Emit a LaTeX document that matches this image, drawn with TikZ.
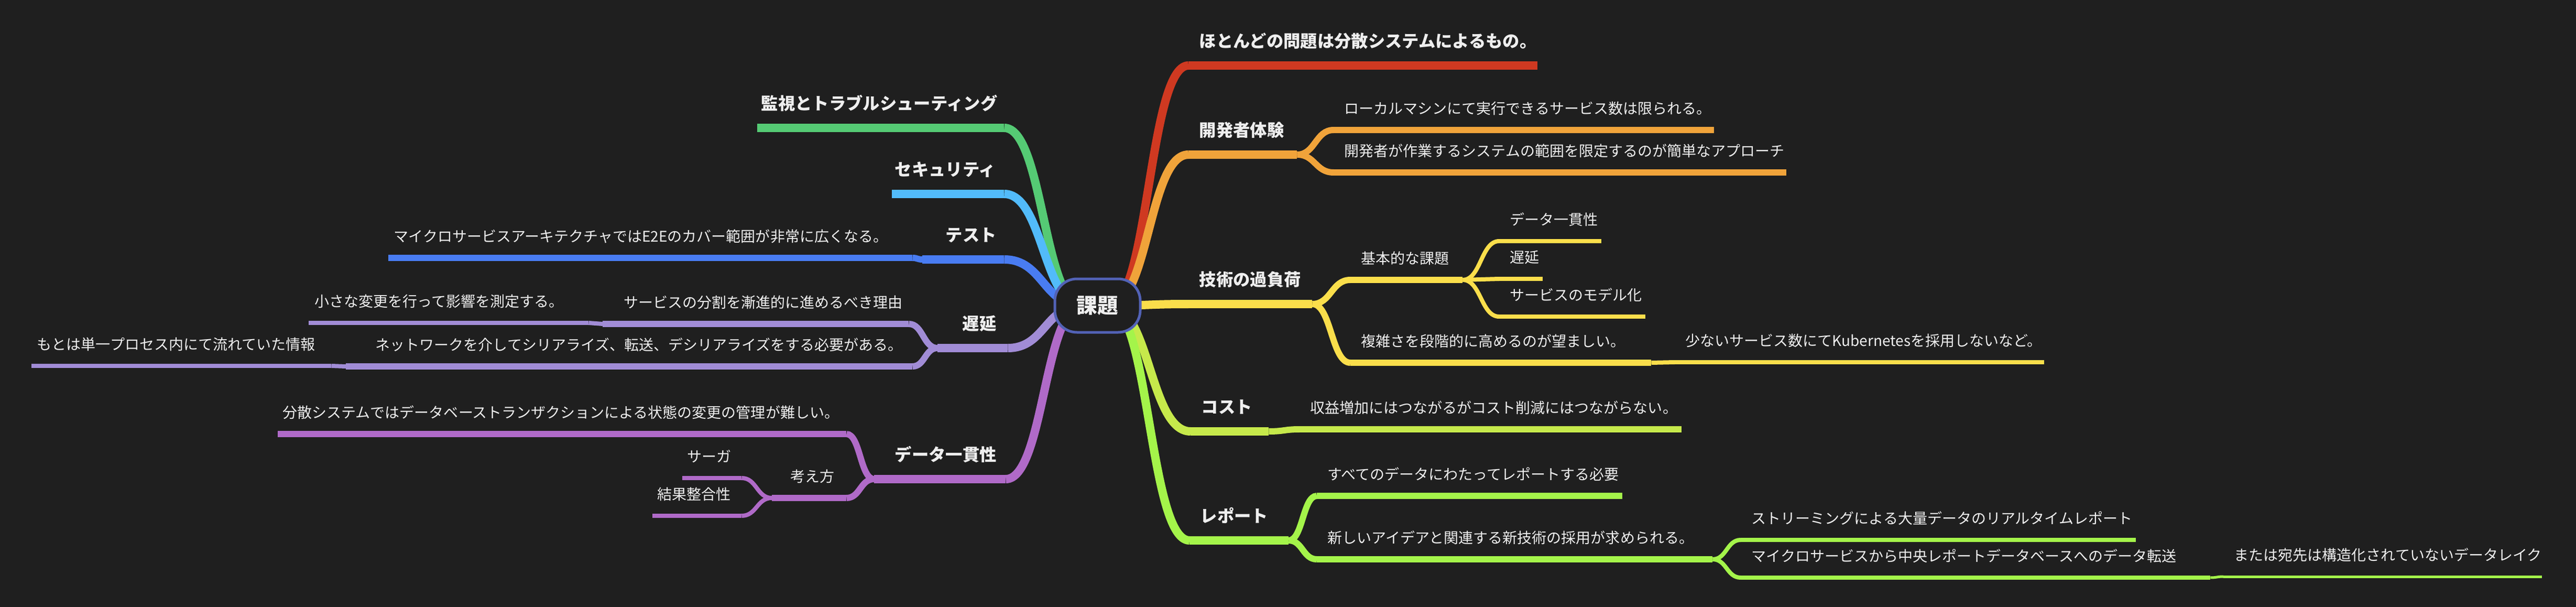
\documentclass[tikz,border=0pt]{standalone}
\usepackage{fontspec}
\setmainfont{Noto Sans CJK JP}
\usepackage{xcolor}
\usepackage{tikz}
\usetikzlibrary{positioning, calc}
\definecolor{bgdark}{RGB}{31,31,31}
\definecolor{txtwhite}{RGB}{238,238,238}
\definecolor{rootblue}{RGB}{82,98,182}
\definecolor{bred}{RGB}{207,57,33}
\definecolor{borange}{RGB}{240,163,58}
\definecolor{byellow}{RGB}{250,222,75}
\definecolor{blime}{RGB}{198,233,75}
\definecolor{bgreen}{RGB}{164,244,74}
\definecolor{bpurple}{RGB}{176,106,200}
\definecolor{blavender}{RGB}{161,140,214}
\definecolor{bblue}{RGB}{73,124,242}
\definecolor{bsky}{RGB}{82,187,250}
\definecolor{bmint}{RGB}{85,202,116}

\pgfdeclarelayer{canvas}
\pgfdeclarelayer{links}
\pgfsetlayers{canvas,links,main}

\newcommand{\mmlink}[3]{\draw[#1] let \p1=(#2), \p2=(#3) in (\p1) .. controls ({(\x1+\x2)/2},\y1) and ({(\x1+\x2)/2},\y2) .. (\p2);}

\begin{document}
\begin{tikzpicture}[
  topic/.style={anchor=south west, align=left, text depth=0pt, inner xsep=2mm, inner ysep=3.4mm,
               text=txtwhite, font=\fontsize{9.2}{11}\selectfont\bfseries},
  sub/.style={topic, inner ysep=3mm, font=\fontsize{7.97}{9.5}\selectfont},
  rootnode/.style={rectangle, rounded corners=4.2mm, draw=rootblue, line width=0.5mm, fill=bgdark,
               minimum width=1.63cm, minimum height=1.02cm, inner sep=0pt, text=txtwhite,
               font=\fontsize{11.3}{13}\selectfont\bfseries},
  w1/.style={line width=1.6mm},
  w2/.style={line width=1.2mm},
  w3/.style={line width=0.8mm},
  w4/.style={line width=0.5mm}
]

\useasboundingbox (0,0) rectangle (49.16,-11.58);
\begin{pgfonlayer}{canvas}
\fill[bgdark] (0,0) rectangle (49.16,-11.58);
\end{pgfonlayer}

\node[rootnode] (root) at (20.945,-5.83) {課題};
\coordinate (rootR) at ([xshift=2.2mm]root.center);
\coordinate (rootL) at ([xshift=-2.9mm]root.center);

\node[topic, text width=6.25cm] (dist) at (22.68,-1.25) {ほとんどの問題は分散システムによるもの。};
\node[topic, text width=1.66cm] (devx) at (22.68,-2.95) {開発者体験};
\node[sub, text width=6.85cm] (devx1) at (25.45,-2.48) {ローカルマシンにて実行できるサービス数は限られる。};
\node[sub, text width=8.23cm] (devx2) at (25.45,-3.29) {開発者が作業するシステムの範囲を限定するのが簡単なアプローチ};
\node[topic, text width=1.95cm] (tech) at (22.68,-5.80) {技術の過負荷};
\node[sub, text width=1.73cm] (basic) at (25.77,-5.34) {基本的な課題};
\node[sub, text width=1.54cm] (bcons) at (28.61,-4.60) {データ一貫性};
\node[sub, text width=0.42cm] (blat) at (28.61,-5.32) {遅延};
\node[sub, text width=2.38cm] (bmodel) at (28.61,-6.04) {サービスのモデル化};
\node[sub, text width=5.33cm] (gradual) at (25.77,-6.92) {複雑さを段階的に高めるのが望ましい。};
\node[sub, text width=6.64cm] (fewsvc) at (31.96,-6.91) {少ないサービス数にてKubernetesを採用しないなど。};
\node[topic, text width=1.08cm] (cost) at (22.72,-8.23) {コスト};
\node[sub, text width=6.88cm] (costa) at (24.80,-8.19) {収益増加にはつながるがコスト削減にはつながらない。};
\node[topic, text width=1.48cm] (report) at (22.70,-10.31) {レポート};
\node[sub, text width=5.42cm] (rall) at (25.13,-9.46) {すべてのデータにわたってレポートする必要};
\node[sub, text width=7.14cm] (rnew) at (25.13,-10.67) {新しいアイデアと関連する新技術の採用が求められる。};
\node[sub, text width=7.13cm] (rstream) at (33.22,-10.30) {ストリーミングによる大量データのリアルタイムレポート};
\node[sub, text width=8.55cm] (rtrans) at (33.22,-11.02) {マイクロサービスから中央レポートデータベースへのデータ転送};
\node[sub, text width=5.67cm] (rlake) at (42.43,-11.00) {または宛先は構造化されていないデータレイク};

\node[topic, inner xsep=0.7mm, text width=4.56cm] (monitor) at (14.45,-2.44) {監視とトラブルシューティング};
\node[topic, inner xsep=0.5mm, text width=2.03cm] (security) at (17.02,-3.70) {セキュリティ};
\node[topic, inner xsep=4.4mm, text width=0.67cm] (test) at (17.60,-4.95) {テスト};
\node[sub, inner xsep=1mm, text width=9.79cm] (e2e) at (7.41,-4.92) {マイクロサービスアーキテクチャではE2Eのカバー範囲が非常に広くなる。};
\node[topic, inner xsep=4.7mm, text width=0.39cm] (latency) at (17.89,-6.64) {遅延};
\node[sub, inner xsep=4mm, text width=5.03cm] (lsplit) at (11.50,-6.18) {サービスの分割を漸進的に進めるべき理由};
\node[sub, inner xsep=1.1mm, text width=5.11cm] (lsmall) at (5.89,-6.16) {小さな変更を行って影響を測定する。};
\node[sub, inner xsep=5.6mm, text width=9.68cm] (lnet) at (6.60,-6.99) {ネットワークを介してシリアライズ、転送、デシリアライズをする必要がある。};
\node[sub, inner xsep=1mm, text width=5.51cm] (lproc) at (0.60,-6.98) {もとは単一プロセス内にて流れていた情報};
\node[topic, inner xsep=3.9mm, text width=1.72cm] (consist) at (16.68,-9.14) {データ一貫性};
\node[sub, inner xsep=0.9mm, text width=10.66cm] (cdist) at (5.30,-8.28) {分散システムではデータベーストランザクションによる状態の変更の管理が難しい。};
\node[sub, inner xsep=3.5mm, text width=0.71cm] (cthink) at (14.73,-9.50) {考え方};
\node[sub, inner xsep=0.9mm, text width=0.94cm] (csaga) at (13.02,-9.12) {サーガ};
\node[sub, inner xsep=0.9mm, text width=1.51cm] (cevent) at (12.45,-9.84) {結果整合性};

\draw[w1, bred] (dist.south west) -- (dist.south east);
\draw[w1, borange] (devx.south west) -- (devx.south east);
\draw[w2, borange] (devx1.south west) -- (devx1.south east);
\draw[w2, borange] (devx2.south west) -- (devx2.south east);
\draw[w1, byellow] (tech.south west) -- (tech.south east);
\draw[w2, byellow] (basic.south west) -- (basic.south east);
\draw[w3, byellow] (bcons.south west) -- (bcons.south east);
\draw[w3, byellow] (blat.south west) -- (blat.south east);
\draw[w3, byellow] (bmodel.south west) -- (bmodel.south east);
\draw[w2, byellow] (gradual.south west) -- (gradual.south east);
\draw[w3, byellow] (fewsvc.south west) -- (fewsvc.south east);
\draw[w1, blime] (cost.south west) -- (cost.south east);
\draw[w2, blime] (costa.south west) -- (costa.south east);
\draw[w1, bgreen] (report.south west) -- (report.south east);
\draw[w2, bgreen] (rall.south west) -- (rall.south east);
\draw[w2, bgreen] (rnew.south west) -- (rnew.south east);
\draw[w3, bgreen] (rstream.south west) -- (rstream.south east);
\draw[w3, bgreen] (rtrans.south west) -- (rtrans.south east);
\draw[w4, bgreen] (rlake.south west) -- (rlake.south east);
\draw[w1, bmint] (monitor.south west) -- (monitor.south east);
\draw[w1, bsky] (security.south west) -- (security.south east);
\draw[w1, bblue] (test.south west) -- (test.south east);
\draw[w2, bblue] (e2e.south west) -- (e2e.south east);
\draw[w1, blavender] (latency.south west) -- (latency.south east);
\draw[w2, blavender] (lsplit.south west) -- (lsplit.south east);
\draw[w3, blavender] (lsmall.south west) -- (lsmall.south east);
\draw[w2, blavender] (lnet.south west) -- (lnet.south east);
\draw[w3, blavender] (lproc.south west) -- (lproc.south east);
\draw[w1, bpurple] (consist.south west) -- (consist.south east);
\draw[w2, bpurple] (cdist.south west) -- (cdist.south east);
\draw[w2, bpurple] (cthink.south west) -- (cthink.south east);
\draw[w3, bpurple] (csaga.south west) -- (csaga.south east);
\draw[w3, bpurple] (cevent.south west) -- (cevent.south east);

\begin{pgfonlayer}{links}
\mmlink{w1, bred}{rootR}{dist.south west}
\mmlink{w1, borange}{rootR}{devx.south west}
\mmlink{w1, byellow}{rootR}{tech.south west}
\mmlink{w1, blime}{rootR}{cost.south west}
\mmlink{w1, bgreen}{rootR}{report.south west}
\mmlink{w1, bmint}{rootL}{monitor.south east}
\mmlink{w1, bsky}{rootL}{security.south east}
\mmlink{w1, bblue}{rootL}{test.south east}
\mmlink{w1, blavender}{rootL}{latency.south east}
\mmlink{w1, bpurple}{rootL}{consist.south east}

\mmlink{w2, borange}{devx.south east}{devx1.south west}
\mmlink{w2, borange}{devx.south east}{devx2.south west}
\mmlink{w2, byellow}{tech.south east}{basic.south west}
\mmlink{w2, byellow}{tech.south east}{gradual.south west}
\mmlink{w3, byellow}{basic.south east}{bcons.south west}
\mmlink{w3, byellow}{basic.south east}{blat.south west}
\mmlink{w3, byellow}{basic.south east}{bmodel.south west}
\mmlink{w3, byellow}{gradual.south east}{fewsvc.south west}
\mmlink{w2, blime}{cost.south east}{costa.south west}
\mmlink{w2, bgreen}{report.south east}{rall.south west}
\mmlink{w2, bgreen}{report.south east}{rnew.south west}
\mmlink{w3, bgreen}{rnew.south east}{rstream.south west}
\mmlink{w3, bgreen}{rnew.south east}{rtrans.south west}
\mmlink{w4, bgreen}{rtrans.south east}{rlake.south west}

\mmlink{w2, bblue}{test.south west}{e2e.south east}
\mmlink{w2, blavender}{latency.south west}{lsplit.south east}
\mmlink{w2, blavender}{latency.south west}{lnet.south east}
\mmlink{w3, blavender}{lsplit.south west}{lsmall.south east}
\mmlink{w3, blavender}{lnet.south west}{lproc.south east}
\mmlink{w2, bpurple}{consist.south west}{cdist.south east}
\mmlink{w2, bpurple}{consist.south west}{cthink.south east}
\mmlink{w3, bpurple}{cthink.south west}{csaga.south east}
\mmlink{w3, bpurple}{cthink.south west}{cevent.south east}
\end{pgfonlayer}

\end{tikzpicture}
\end{document}
